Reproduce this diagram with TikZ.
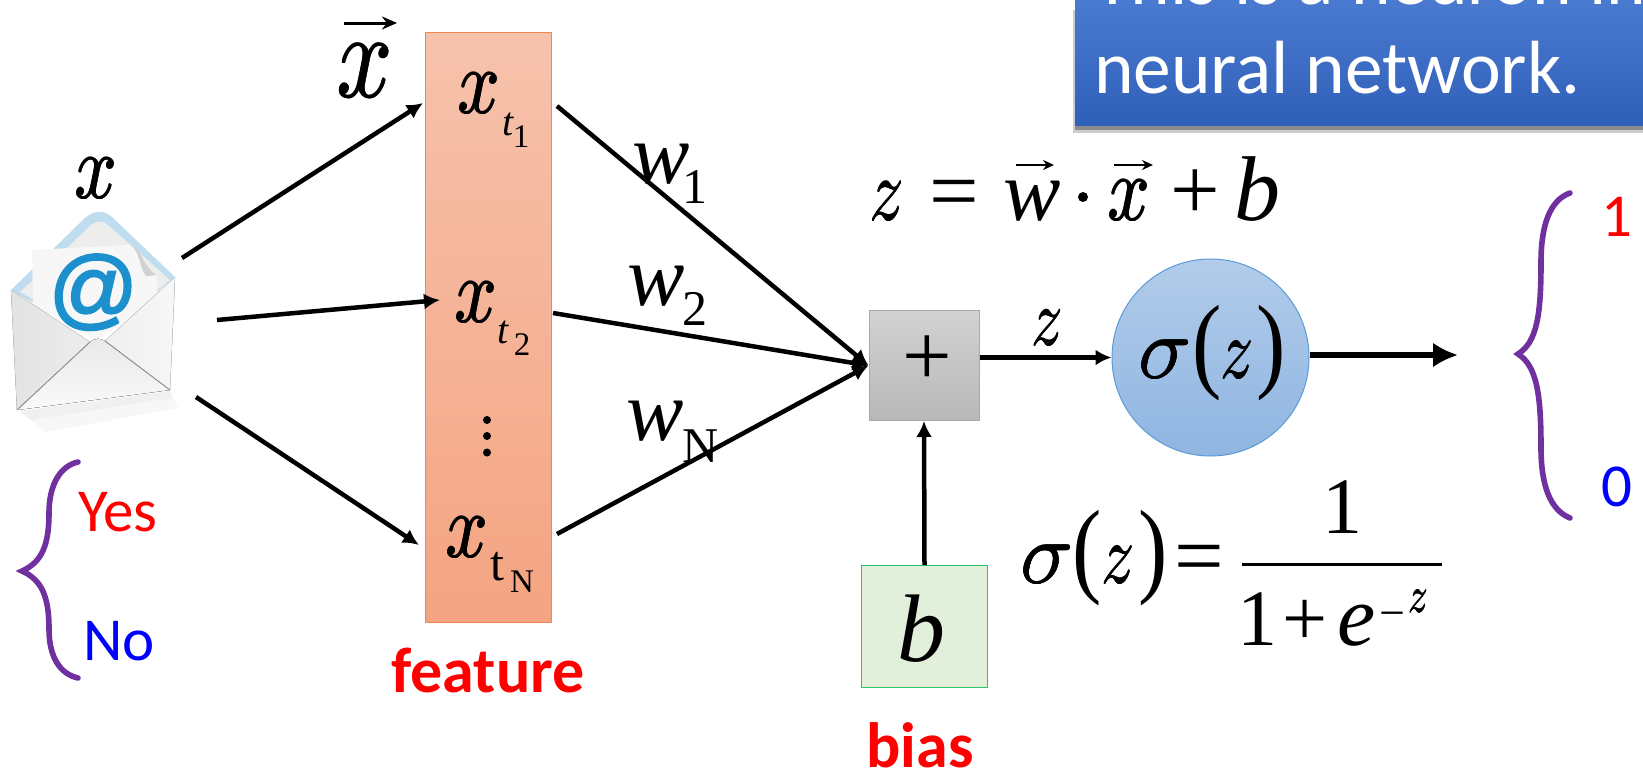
\documentclass[tikz,border=0pt]{standalone}
\usepackage{fontspec}
\setmainfont{Carlito}
\newfontfamily\mi{Liberation Serif}
\newfontfamily\atf[ItalicFeatures={FakeBold=2.5}]{Liberation Sans}
\usetikzlibrary{arrows.meta}
\newcommand{\fs}[1]{\fontsize{#1}{#1}\selectfont}
\newcommand{\mg}[3]{\scalebox{#1}[#2]{\fs{10}\rlap{$#3$}\rlap{\kern.07pt$#3$}\rlap{\raisebox{.05pt}{$#3$}}\kern.035pt$#3$}}
\newcommand{\mx}{\mg{7.36}{9.2}{x}}
\newcommand{\mz}{\mg{6.86}{8.8}{z}}
\definecolor{featA}{HTML}{F6C2AC}\definecolor{featB}{HTML}{F4A482}\definecolor{featE}{HTML}{EE8A50}
\definecolor{sumA}{HTML}{D2D2D2}\definecolor{sumB}{HTML}{B8B8B8}\definecolor{sumE}{HTML}{A8A8A8}
\definecolor{cirA}{HTML}{B2CCEA}\definecolor{cirB}{HTML}{8FB5E1}\definecolor{cirE}{HTML}{5B9BD5}
\definecolor{boxA}{HTML}{4C7CD2}\definecolor{boxB}{HTML}{2F5FB8}
\definecolor{grnF}{HTML}{E2EFDA}\definecolor{grnE}{HTML}{2CC36B}
\definecolor{brc}{HTML}{7030A0}\definecolor{atblue}{HTML}{1C90CC}\definecolor{flap}{HTML}{BFDDEE}
\tikzset{
  x=1pt,y=-1pt,
  lab/.style={inner sep=0,outer sep=0,anchor=base},
  ser/.style={lab,font=\mi\itshape\fs{86}},
  mth/.style={lab},
  rom/.style={lab,font=\mi\fs{88}},
  sub/.style={lab,font=\mi\itshape\fs{40}},
  subr/.style={lab,font=\mi\fs{50}},
  tiny/.style={lab,font=\mi\fs{33}},
  sans/.style={lab,font=\fs{61}},
  boldlab/.style={lab,font=\bfseries\fs{64}},
  conn/.style={line width=4.5pt,-{Latex[length=16pt,width=16pt]}},
  veca/.style={line width=2pt,-{Stealth[length=11pt,width=10pt]}},
  bracepath/.style={brc,line width=5.6pt,line cap=round},
}
\begin{document}
\begin{tikzpicture}
\useasboundingbox (0,0) rectangle (1643,769);
\clip (0,0) rectangle (1643,769);
% envelope
\fill[black!3] (22,412) -- (170,392) -- (178,408) -- (45,432) -- cycle;
\fill[black!6] (20,411) -- (170,391) -- (172,398) -- (30,420) -- cycle;
\fill[flap] (11,290) -- (86,217) .. controls (97,209) and (105,211) .. (112,217) -- (175,277) -- (97,340) -- cycle;
\fill[black!7] (20,292) -- (90,226) .. controls (97,220) and (103,220) .. (108,225) -- (170,280) -- (97,336) -- cycle;
\fill[white!97!black] (32,250) -- (130,245) .. controls (142,248) and (143,270) .. (146,274) -- (157,275) -- (157,300) -- (97,340) -- (33,305) -- cycle;
\fill[black!18] (130,245) .. controls (142,248) and (143,268) .. (157,275) -- (146,276) .. controls (140,270) and (140,250) .. (130,245) -- cycle;
\node[lab,text=atblue,font=\atf\itshape\fs{88}] (at) at (92,318) {@};
\fill[left color=black!11,right color=black!3,draw=black!20] (11,290) -- (90,342) .. controls (96,338) and (100,338) .. (105,341) -- (175,277) -- (170,390) -- (17,410) -- cycle;
\fill[top color=black!9,bottom color=black!2] (17,410) -- (90,342) .. controls (96,338) and (100,338) .. (105,341) -- (170,390) -- cycle;
\draw[black!45,line width=.9pt] (17,410) -- (90,342) (105,341) -- (170,390);
% feature box
\node[draw=featE,line width=1pt,top color=featA,bottom color=featB,minimum width=126pt,minimum height=590pt,inner sep=0,anchor=north west] (feat) at (425,32) {};
% callout
\fill[black!20] (1073,10) rectangle (1643,133);
\fill[black!45] (1075,10) rectangle (1643,130);
\node[top color=boxA,bottom color=boxB,minimum width=575pt,minimum height=135pt,inner sep=0,anchor=south west] (callout) at (1075,126) {};
\node[lab,anchor=base west,text=white,font=\fs{75.4}] (t1) at (1094,4) {This is a neuron in};
\node[lab,anchor=base west,text=white,font=\fs{75.4}] (t2) at (1094,93) {neural network.};
% sum, sigma, bias
\node[draw=sumE,line width=1pt,top color=sumA,bottom color=sumB,minimum size=110pt,inner sep=0] (sum) at (924,365.5) {};
\node[rom] (plus) at (927,385) {+};
\node[circle,draw=cirE,line width=1pt,top color=cirA,bottom color=cirB,minimum size=197pt,inner sep=0] (sig) at (1210.5,357.5) {};
\node[draw=grnE,line width=1pt,fill=grnF,minimum width=126pt,minimum height=122pt,inner sep=0,anchor=north west] (biasbox) at (861,565) {};
\node[ser,font=\mi\itshape\fs{96}] (b) at (921,661) {b};
% connectors
\coordinate (ea) at (182,258); \coordinate (fa) at (423,103);
\coordinate (eb) at (217,320); \coordinate (fb) at (440,300);
\coordinate (ec) at (196,397); \coordinate (fc) at (419,545);
\coordinate (ga) at (557,106); \coordinate (gb) at (553,313); \coordinate (gc) at (557,534);
\coordinate (out) at (1458,355);
\draw[conn] (ea) -- (fa);
\draw[conn] (eb) -- (fb);
\draw[conn] (ec) -- (fc);
\draw[conn] (ga) -- (sum.west);
\draw[conn] (gb) -- (sum.west);
\draw[conn] (gc) -- (sum.west);
\draw[conn] (sum.east |- sig.west) -- (sig.west);
\draw[conn] (biasbox.north) -- (sum.south);
\draw[line width=6.5pt,-{Latex[length=25pt,width=25pt]}] (sig.east |- out) -- (out);
% vector arrows
\coordinate (va1) at (344,23); \coordinate (va2) at (397,23);
\coordinate (vb1) at (1016,165); \coordinate (vb2) at (1054,165);
\coordinate (vc1) at (1114,165); \coordinate (vc2) at (1153,165);
\draw[line width=3pt,-{Stealth[length=15pt,width=13pt]}] (va1) -- (va2);
\draw[veca] (vb1) -- (vb2);
\draw[veca] (vc1) -- (vc2);
% math labels
\node[mth] (lx) at (96,198) {\mx};
\node[mth] (vx) at (365,97) {\mg{9.76}{12.2}{x}};
\node[mth] (x1) at (479,113) {\mx}; \node[sub] (t1s) at (508,135) {t}; \node[tiny] (n1) at (521,147) {1};
\node[mth] (x2) at (476,322) {\mx}; \node[sub] (t2s) at (503,343) {t}; \node[tiny] (n2) at (522,355) {2};
\node[mth] (x3) at (467,557) {\mx}; \node[subr] (t3s) at (497,580) {t}; \node[tiny] (n3) at (522,592) {N};
\fill (487,420) circle (4) (487,436) circle (4) (487,452.5) circle (4);
\node[ser] (w1) at (661,183) {w}; \node[subr] (w1s) at (695,203) {1};
\node[ser] (w2) at (656,305) {w}; \node[subr] (w2s) at (695,325) {2};
\node[ser] (w3) at (655,440) {w}; \node[subr] (w3s) at (701,462) {N};
\node[mth] (e1) at (887,220) {\mz};
\node[rom] (e2) at (954,220) {=};
\node[ser] (e3) at (1032,220) {w};
\fill (1083,197) circle (5);
\node[mth] (e5) at (1129,220) {\mx};
\node[rom] (e6) at (1195,219) {+};
\node[ser,font=\mi\itshape\fs{92}] (e7) at (1257,220) {b};
\node[mth] (lz) at (1047,345) {\mg{6.24}{8}{z}};
% sigma in circle
\node[mth] (s1) at (1165,378) {\mg{8.8}{8.8}{\sigma}};
\node[rom] (s2) at (1207,378) {\scalebox{1}[1.2]{(}};
\node[mth] (s3) at (1237,378) {\mg{6.55}{8.4}{z}};
\node[rom] (s4) at (1271,378) {\scalebox{1}[1.2]{)}};
% sigma formula
\node[mth] (f1) at (1047,583) {\mg{8.8}{8.8}{\sigma}};
\node[rom] (f1b) at (1087,583) {\scalebox{1}[1.2]{(}};
\node[mth] (f1c) at (1118,583) {\mg{6.55}{8.4}{z}};
\node[rom] (f1d) at (1153,583) {\scalebox{1}[1.2]{)}};
\node[rom] (f2) at (1199,585) {=};
\draw[line width=3pt] (1242,564) coordinate (ba) -- (1442,564) coordinate (bb);
\node[rom,font=\mi\fs{80}] (f3) at (1342,533) {1};
\node[rom,font=\mi\fs{80}] (f4) at (1257,645) {1};
\node[rom,font=\mi\fs{80}] (f5) at (1305,645) {+};
\node[ser] (f6) at (1357,645) {e};
\node[subr,font=\mi\fs{46}] (f7) at (1392,628) {−};
\node[mth] (f8) at (1418,612) {\mg{3.9}{5}{z}};
% text labels
\node[sans,text=red] (yes) at (118,531) {Yes};
\node[sans,text=blue] (no) at (119,660) {No};
\node[sans,text=red] (one) at (1617,236) {1};
\node[sans,text=blue] (zero) at (1617,506) {0};
\node[boldlab,text=red] (ft) at (488,692) {feature};
\node[boldlab,text=red] (bi) at (920,767) {bias};
% braces
\draw[bracepath] (78,462) .. controls (60,466) and (49,485) .. (49,513) .. controls (49,545) and (42,562) .. (22,571) .. controls (42,580) and (49,597) .. (49,629) .. controls (49,657) and (60,674) .. (78,678);
\draw[bracepath] (1570,193) .. controls (1550,200) and (1541,225) .. (1541,262) .. controls (1541,315) and (1537,342) .. (1518,354) .. controls (1537,366) and (1541,395) .. (1541,448) .. controls (1541,485) and (1550,510) .. (1570,518);
\end{tikzpicture}
\end{document}
